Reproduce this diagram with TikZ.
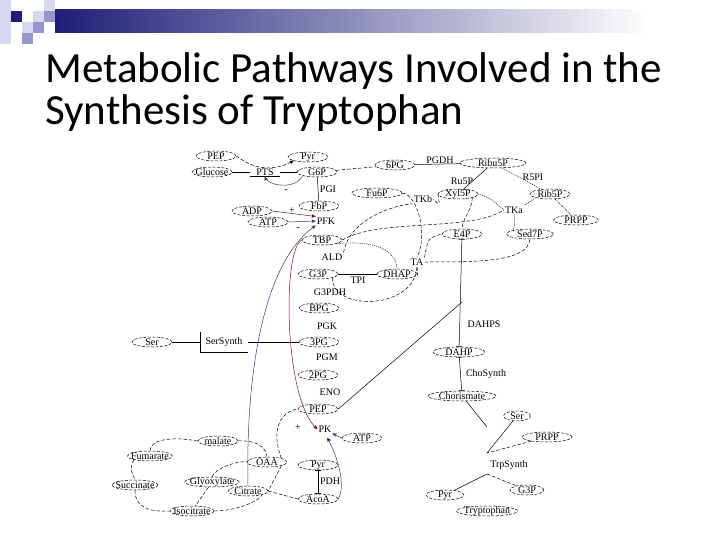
\documentclass[tikz,border=0pt]{standalone}
\usepackage{fontspec}
\setmainfont{Liberation Serif}
\newfontfamily\titlefont{Carlito}
\usetikzlibrary{arrows,shapes.geometric}
\definecolor{edge_blue}{RGB}{55,55,130}
\definecolor{edge_red}{RGB}{115,20,25}
\definecolor{bar_dark}{RGB}{30,30,120}
\definecolor{sq_light}{RGB}{215,215,238}
\definecolor{sq_mid}{RGB}{150,150,205}

\begin{document}
\begin{tikzpicture}[x=1pt,y=-1pt,line width=0.5pt,>=stealth']
    \tikzstyle{met}=[draw, ellipse, dash pattern=on 3pt off 1.5pt, minimum width=40pt, minimum height=10pt, inner xsep=-3pt, inner ysep=-1.5pt, font=\fontsize{10}{10}\selectfont]
    \tikzstyle{rxn}=[inner sep=1pt, font=\fontsize{10}{10}\selectfont]
    \tikzstyle{link}=[dash pattern=on 3.5pt off 2pt]
    \tikzstyle{dots}=[dash pattern=on 1pt off 1pt]
    \tikzstyle{heading}=[anchor=base west, inner sep=0pt, font=\titlefont\fontsize{43}{43}\selectfont]

    \useasboundingbox (0,0) rectangle (720,540);
    % corner squares and bar
    \fill[sq_light] (0,0) rectangle (11,44);
    \fill[bar_dark] (11,11) rectangle (22,22);
    \fill[sq_light] (22,22) rectangle (33,33);
    \fill[sq_light] (33,11) rectangle (44,22);
    \fill[sq_light] (44,0) rectangle (55,11);
    \fill[sq_mid] (44,11) rectangle (55,22);
    \fill[sq_mid] (33,22) rectangle (44,33);
    \fill[sq_mid] (22,33) rectangle (33,44);
    \shade[left color=bar_dark, right color=white] (55,10) rectangle (650,33);

    \node[heading] (title1) at (45,83)  {Metabolic Pathways Involved in the};
    \node[heading] (title2) at (45,125) {Synthesis of Tryptophan};

    % metabolites
    \node[met] (pepA) at (216,156) {PEP};
    \node[met] (pyrA) at (308,157) {Pyr};
    \node[met] (glc)  at (212,172) {Glucose};
    \node[met] (g6p)  at (317,172) {G6P};
    \node[met] (fbp)  at (319,206) {FbP};
    \node[met] (adp)  at (252,211) {ADP};
    \node[met] (atpA) at (268,222) {ATP};
    \node[met] (tbp)  at (322,240) {TBP};
    \node[met] (g3p)  at (318,274) {G3P};
    \node[met] (dhap) at (397,274) {DHAP};
    \node[met] (bpg)  at (319,308) {BPG};
    \node[met] (pg3)  at (319,342) {3PG};
    \node[met] (pg2)  at (318,375) {2PG};
    \node[met] (pepB) at (318,409) {PEP};
    \node[met] (atpB) at (362,438) {ATP};
    \node[met] (pyrB) at (318,465) {Pyr};
    \node[met] (acoa) at (318,499) {AcoA};
    \node[met] (cit)  at (248,491) {Citrate};
    \node[met] (oaa)  at (267,462) {OAA};
    \node[met] (mal)  at (218,441) {malate};
    \node[met] (fum)  at (150,456) {Fumarate};
    \node[met] (suc)  at (135,485) {Succinate};
    \node[met] (gly)  at (212,482) {Glyoxylate};
    \node[met] (icit) at (192,511) {Isocitrate};
    \node[met] (ser)  at (152,342) {Ser};
    \node[met] (pg6)  at (395,165) {6PG};
    \node[met, minimum width=66pt] (ru5p) at (493,163) {Ribu5P};
    \node[met] (xyl)  at (458,194) {Xyl5P};
    \node[met] (rib)  at (550,194) {Rib5P};
    \node[met, minimum width=45pt] (prppA) at (576,220) {PRPP};
    \node[met, minimum width=50pt] (f6p) at (377,193) {Fu6P};
    \node[met] (e4p)  at (462,234) {E4P};
    \node[met, minimum width=47pt] (s7p) at (530,234) {Sed7P};
    \node[met, minimum width=52pt] (dahp) at (459,352) {DAHP};
    \node[met, minimum width=68pt] (chor) at (462,396) {Chorismate};
    \node[met, minimum width=27pt] (serB) at (517,416) {Ser};
    \node[met, minimum width=50pt] (prppB) at (547,437) {PRPP};
    \node[met, minimum width=38pt] (pyrC) at (445,495) {Pyr};
    \node[met, minimum width=34pt] (g3pB) at (527,490) {G3P};
    \node[met, minimum width=61pt] (trp) at (487,511) {Tryptophan};

    % reactions
    \node[rxn, minimum width=30pt] (pts) at (265,172) {PTS};
    \node[rxn] (pgi)    at (328,189) {PGI};
    \node[rxn] (pfk)    at (326,221) {PFK};
    \node[rxn] (ald)    at (332,257) {ALD};
    \node[rxn] (tpi)    at (358,280) {TPI};
    \node[rxn] (gapdh)  at (330,292) {G3PDH};
    \node[rxn] (pgk)    at (327,326) {PGK};
    \node[rxn] (pgm)    at (327,357) {PGM};
    \node[rxn] (eno)    at (330,392) {ENO};
    \node[rxn] (pk)     at (325,429) {PK};
    \node[rxn] (pdh)    at (330,481) {PDH};
    \node[rxn, minimum width=48pt, minimum height=20pt] (sersyn) at (224,342) {SerSynth};
    \node[rxn] (pgdh)   at (440,160) {PGDH};
    \node[rxn] (ru5pe)  at (462,181) {Ru5P};
    \node[rxn] (r5pi)   at (533,177) {R5PI};
    \node[rxn] (tka)    at (514,210) {TKa};
    \node[rxn] (tkb)    at (423,199) {TKb};
    \node[rxn] (ta)     at (417,262) {TA};
    \node[rxn] (dahps)  at (484,324) {DAHPS};
    \node[rxn] (chosyn) at (486,374) {ChoSynth};
    \node[rxn] (trpsyn) at (509,465) {TrpSynth};

    \coordinate (dahpin) at (462,302);
    \coordinate (chorout) at (487,427);
    \coordinate (trpin) at (487,453);
    \coordinate (trpout) at (487,474);

    % glucose uptake, glycolysis
    \path
     (glc) edge[] (pts)
     (pts) edge[] (g6p)
     (pts.south west) edge[] (pts.south east)
     (g6p) edge[link] (pg6)
     (g6p) edge[] (fbp)
     (g3p) edge[] (dhap)
     (ser) edge[] (sersyn)
     (sersyn) edge[] (pg3)
     (pepB.east) edge[] (dahpin)
     ;
    \draw (sersyn.north west) -- (sersyn.south west) -- (sersyn.south east);
    \draw[link,->] (pepA.east) .. controls (258,172) and (276,170) .. (pyrA.south west);

    % regulation
    \draw[edge_blue,->] (g6p.south west) .. controls (296,190) and (268,186) .. (pts.south);
    \node[rxn] (inhA) at (286,191) {-};
    \draw[edge_red,->] (adp.east) -- (pfk.north west);
    \node[rxn] (actA) at (292,211) {+};
    \draw[edge_blue,->] (atpA.east) -- (pfk.west);
    \node[rxn] (inhB) at (298,229) {-};
    \draw[edge_blue,->] (cit.north) .. controls (246,400) and (256,268) .. (pfk.south west);
    \draw[edge_red,->] (tbp.west) .. controls (282,250) and (284,400) .. (pk.west);
    \node[rxn] (actB) at (298,428) {+};
    \draw[edge_blue,->] (atpB.west) -- (pk.south east);
    \draw[edge_blue,->,shorten >=5pt] (acoa.east) .. controls (346,485) and (338,458) .. (pk.south);
    \node[rxn] (inhC) at (329,441) {-};

    % TCA and glyoxylate shunt
    \draw[link] (mal.west) .. controls (170,436) and (150,440) .. (fum.north);
    \draw[link] (fum.south west) .. controls (130,468) .. (suc.north);
    \draw[link] (suc.south) .. controls (135,508) and (150,512) .. (icit.west);
    \draw[link] (icit.east) .. controls (235,511) and (258,502) .. (cit.south east);
    \draw[link] (gly) -- (icit);
    \draw[link] (gly.north) .. controls (215,468) and (240,460) .. (oaa.west);
    \draw[link] (mal.east) .. controls (258,440) and (266,448) .. (oaa.north);
    \draw[link] (oaa.north east) .. controls (270,428) and (282,411) .. (pepB.west);
    \draw[link] (oaa.south east) .. controls (274,478) .. (cit.east);
    \draw[link] (cit.east) -- (acoa.west);
    \draw[|-|] (pyrB) -- (acoa);

    % pentose phosphate
    \path
     (pg6) edge[] (ru5p)
     (ru5p) edge[] (xyl)
     (ru5p) edge[dots] (rib)
     (rib) edge[dots] (prppA)
     (rib.south west) edge[dots] (tka.north east)
     ;
    \draw[dots] (xyl.east) .. controls (490,198) .. (tka.west);
    \draw[dots] (tka.south) .. controls (515,224) .. (s7p.north west);
    \draw[link] (tbp.east) .. controls (380,218) and (470,232) .. (tka.west);
    \draw[link] (ald.north east) .. controls (350,218) and (395,205) .. (tkb.south west);
    \draw[link] (f6p.east) .. controls (418,195) and (428,235) .. (ta.north);
    \draw[link] (xyl.west) .. controls (440,206) .. (tkb.east);
    \draw[link] (xyl.south east) .. controls (472,210) and (462,220) .. (e4p.north);
    \draw[dots] (tbp.south east) .. controls (375,240) and (396,250) .. (dhap.north);
    \draw[link] (g3p.south east) .. controls (332,312) and (415,310) .. (ta.south);
    \draw[link] (dhap.east) .. controls (418,276) .. (ta.south);
    \draw[link] (ta.north east) .. controls (428,238) .. (e4p.west);
    \draw[link] (ta.east) .. controls (480,262) and (527,262) .. (s7p.south);

    % aromatic branch
    \draw[|-|] (e4p) -- (dahp);
    \draw[|-|] (dahp) -- (chor);
    \path
     (chor) edge[] (chorout)
     (serB) edge[] (trpin)
     (prppB) edge[link] (trpin)
     (trpout) edge[] (pyrC)
     (trpout) edge[link] (g3pB)
     ;
\end{tikzpicture}
\end{document}
